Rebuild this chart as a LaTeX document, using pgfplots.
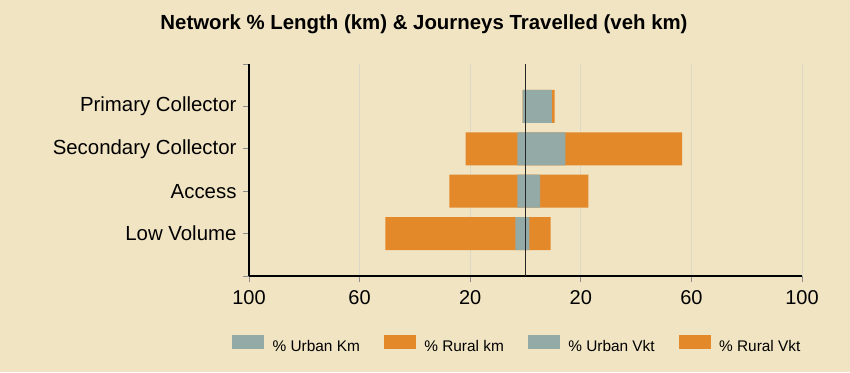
\documentclass[border=0pt]{standalone}
\usepackage{fontspec}
\setmainfont{Liberation Sans}
\usepackage{pgfplots}
\pgfplotsset{compat=1.18}
\usepackage{pgfplotstable}
\definecolor{bg}{HTML}{F1E4C3}
\definecolor{urb}{HTML}{93AAA6}
\definecolor{rur}{HTML}{E4892A}
\definecolor{gridc}{HTML}{DED6C6}
\pgfplotstableread{
pos uk rk uv rv
4 1.0 0.0 9.5 1.0
3 2.9 18.8 14.4 42.2
2 2.9 24.6 5.3 17.4
1 3.7 47.0 1.4 7.7
}\data
\begin{document}
\begin{tikzpicture}[x=1pt,y=1pt]
\fill[bg] (0,0) rectangle (850,372);
\node[font=\fontsize{20.4}{24}\selectfont\bfseries] at (424,348) {Network \% Length (km) \& Journeys Travelled (veh km)};
\begin{axis}[
 at={(249pt,96pt)}, anchor=south west, scale only axis, width=553pt, height=212pt,
 xmin=-100, xmax=100, ymin=0, ymax=5,
 axis x line=bottom, axis y line=left, axis line style={-, black, line width=1.4pt},
 xtick={-100,-60,-20,20,60,100}, xticklabels={100,60,20,20,60,100},
 ytick={0,1,2,3,4,5}, yticklabels={,Low Volume,Access,Secondary Collector,Primary Collector,},
 xmajorgrids, grid style={gridc, line width=0.8pt},
 tick align=outside, major tick length=6pt, tick style={black!45, line width=0.8pt},
 xticklabel style={font=\fontsize{20}{24}\selectfont, yshift=-5pt},
 yticklabel style={font=\fontsize{20.4}{24}\selectfont, xshift=-3pt},
 /pgf/number format/assume math mode=true,
 legend style={draw=none, fill=none, legend columns=4, at={(-0.0307,-0.3208)}, anchor=west, inner sep=0pt,
   font=\fontsize{15.4}{18}\selectfont,
   /tikz/every odd column/.append style={column sep=9pt},
   /tikz/every even column/.append style={column sep=24pt},
   nodes={inner sep=0pt}},
]
\addplot[xbar, bar width=0.78, bar shift=0pt, fill=rur, draw=none, forget plot] table[x expr=-(\thisrow{uk}+\thisrow{rk}), y=pos]{\data};
\addplot[xbar, bar width=0.78, bar shift=0pt, fill=urb, draw=none, forget plot] table[x expr=-\thisrow{uk}, y=pos]{\data};
\addplot[xbar, bar width=0.78, bar shift=0pt, fill=rur, draw=none, forget plot] table[x expr=\thisrow{uv}+\thisrow{rv}, y=pos]{\data};
\addplot[xbar, bar width=0.78, bar shift=0pt, fill=urb, draw=none, forget plot] table[x=uv, y=pos]{\data};
\addplot[black!85, line width=1.1pt, forget plot] coordinates {(0,0) (0,5)};
\addlegendimage{legend image code/.code={\fill[urb] (0pt,-1.5pt) rectangle (31pt,11.5pt);}}
\addlegendentry{\% Urban Km}
\addlegendimage{legend image code/.code={\fill[rur] (0pt,-1.5pt) rectangle (31pt,11.5pt);}}
\addlegendentry{\% Rural km}
\addlegendimage{legend image code/.code={\fill[urb] (0pt,-1.5pt) rectangle (31pt,11.5pt);}}
\addlegendentry{\% Urban Vkt}
\addlegendimage{legend image code/.code={\fill[rur] (0pt,-1.5pt) rectangle (31pt,11.5pt);}}
\addlegendentry{\% Rural Vkt}
\end{axis}
\pgfresetboundingbox
\path (0,0) rectangle (850,372);
\end{tikzpicture}
\end{document}
